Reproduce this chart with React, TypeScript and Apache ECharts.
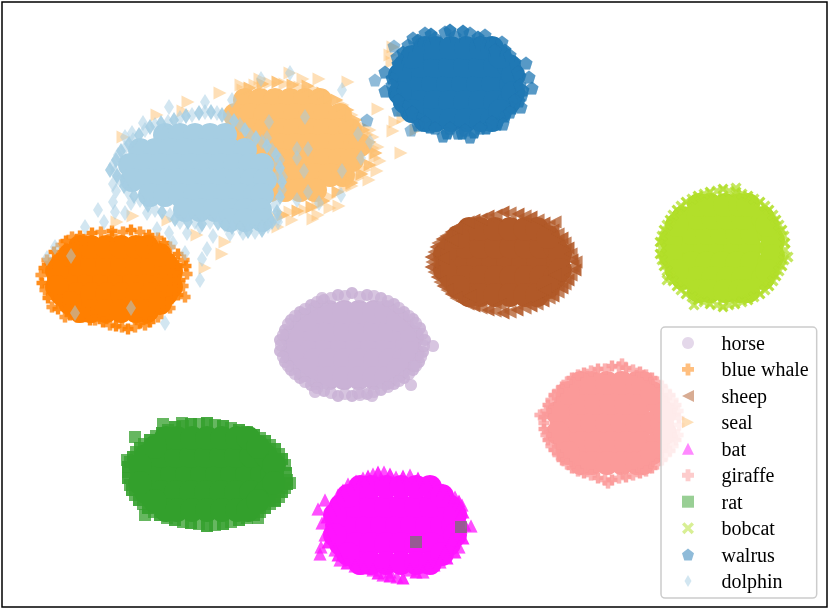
import React, { useEffect, useRef } from "react";
import * as echarts from "echarts";

const categories = ["horse", "blue whale", "sheep", "seal", "bat", "giraffe", "rat", "bobcat", "walrus", "dolphin"];
const colors = ["#cab2d6", "#ff7f00", "#b15928", "#fdbf6f", "#ff14ff", "#fb9a99", "#33a02c", "#b2df2a", "#1f78b4", "#a6cee3"];

// Dense middle of each cloud, as rows [y, x, x, ...]
const horseCore = [
  [345, 297, 312, 327, 342, 357, 372, 387, 407],
  [330, 300, 315, 330, 345, 360, 375, 390, 404],
  [360, 300, 315, 330, 345, 360, 375, 390, 404],
  [312, 318, 329, 344, 359, 374, 386],
  [378, 318, 329, 344, 359, 374, 386],
  [337, 292, 412], [353, 292, 412], [320, 305, 398], [370, 305, 398],
];
const whaleCore = [
  [279, 59, 74, 89, 104, 119, 134, 149, 169],
  [264, 62, 77, 92, 107, 122, 137, 152, 166],
  [294, 62, 77, 92, 107, 122, 137, 152, 166],
  [247, 80, 91, 106, 121, 136, 147],
  [311, 80, 91, 106, 121, 136, 147],
  [271, 57, 171], [287, 57, 171], [255, 70, 160], [303, 70, 160],
];
const sheepCore = [
  [262, 448, 463, 478, 493, 508, 523, 538, 558],
  [247, 451, 466, 481, 496, 511, 526, 541, 555],
  [277, 451, 466, 481, 496, 511, 526, 541, 555],
  [229, 469, 480, 495, 510, 525, 537],
  [295, 469, 480, 495, 510, 525, 537],
  [254, 445, 560], [270, 445, 560], [237, 458, 548], [287, 458, 548],
];
const sealCore = [
  [100, 245, 260, 275, 290, 305, 320],
  [115, 235, 250, 265, 280, 295, 310, 325, 340],
  [130, 235, 250, 265, 280, 295, 310, 325, 340, 350],
  [145, 235, 250, 265, 280, 295, 310, 325, 340, 355, 360],
  [160, 250, 265, 280, 295, 310, 325, 340, 352],
  [175, 255, 270, 285, 300, 315, 330, 343],
  [190, 270, 285, 300, 315],
];
const batCore = [
  [525, 337, 352, 367, 382, 397, 412, 427, 442, 453],
  [506, 341, 356, 371, 386, 401, 416, 431, 449],
  [544, 341, 356, 371, 386, 401, 416, 431, 449],
  [487, 360, 371, 386, 401, 416, 430],
  [563, 360, 371, 386, 401, 416, 430],
  [515, 335, 455], [535, 335, 455], [496, 348, 442], [554, 348, 442],
];
const giraffeCore = [
  [423, 562, 577, 592, 607, 622, 637, 652, 662],
  [403, 566, 581, 596, 611, 626, 641, 658],
  [443, 566, 581, 596, 611, 626, 641, 658],
  [383, 581, 592, 607, 622, 637, 643],
  [463, 581, 592, 607, 622, 637, 643],
  [413, 558, 665], [433, 558, 665], [393, 568, 652], [453, 568, 652],
];
const ratCore = [
  [474, 142, 157, 172, 187, 202, 217, 232, 247, 262, 272],
  [456, 146, 161, 176, 191, 206, 221, 236, 251, 266],
  [492, 146, 161, 176, 191, 206, 221, 236, 251, 266],
  [438, 166, 177, 192, 207, 222, 237, 248],
  [510, 166, 177, 192, 207, 222, 237, 248],
  [465, 140, 274], [483, 140, 274], [447, 155, 258], [501, 155, 258],
];
const bobcatCore = [
  [248, 675, 690, 705, 720, 735, 750, 771],
  [233, 677, 692, 707, 722, 737, 752, 769],
  [263, 677, 692, 707, 722, 737, 752, 769],
  [218, 683, 698, 713, 728, 743, 763],
  [278, 683, 698, 713, 728, 743, 763],
  [205, 699, 710, 725, 740, 748],
  [291, 699, 710, 725, 740, 748],
  [240, 671, 773], [256, 671, 773], [225, 677, 767], [271, 677, 767],
];
const walrusCore = [
  [84, 403, 418, 433, 448, 463, 478, 493, 511],
  [66, 405, 420, 435, 450, 465, 480, 495, 509],
  [102, 405, 420, 435, 450, 465, 480, 495, 509],
  [48, 425, 436, 451, 466, 481, 492],
  [120, 425, 436, 451, 466, 481, 492],
  [75, 400, 513], [93, 400, 513], [57, 412, 500], [111, 412, 500],
];
const dolphinCore = [
  [135, 165, 180, 195, 210, 225],
  [150, 140, 155, 170, 185, 200, 215, 230, 245],
  [165, 130, 145, 160, 175, 190, 205, 220, 235, 250, 262],
  [180, 132, 147, 162, 177, 192, 207, 222, 237, 252, 265],
  [195, 150, 165, 180, 195, 210, 225, 240, 255, 262],
  [210, 185, 200, 215, 230, 245, 260],
  [220, 230, 245, 262],
];

// Well-overlapped points in the rim of each cloud, as [x, y]
const horseRim = [
  [423, 352], [419, 362], [413, 370], [404, 378], [394, 384], [381, 390], [367, 394], [352, 396], [338, 396], [324, 391],
  [311, 385], [300, 378], [291, 370], [285, 362], [280, 351], [280, 340], [285, 330], [291, 320], [300, 312], [311, 305],
  [324, 300], [338, 295], [352, 293], [367, 295], [381, 298], [394, 304], [404, 312], [413, 319], [420, 328], [425, 340],
];
const whaleRim = [
  [177, 265], [180, 280], [178, 295], [168, 302], [150, 322], [140, 323], [128, 329], [116, 326], [103, 322], [90, 320],
  [70, 315], [58, 309], [48, 298], [42, 283], [44, 268], [54, 252], [66, 241], [80, 236], [92, 233], [112, 231],
  [131, 230], [149, 235], [164, 243], [178, 254], [186, 266],
];
const sheepRim = [
  [572, 260], [568, 280], [562, 288], [553, 296], [543, 301], [531, 306], [517, 310], [503, 313], [488, 310], [474, 306],
  [462, 301], [451, 294], [443, 286], [437, 277], [431, 267], [431, 257], [436, 247], [442, 239], [451, 232], [462, 225],
  [474, 220], [488, 216], [503, 212], [518, 214], [531, 217], [544, 223], [553, 230], [562, 238], [568, 248], [575, 270],
];
const sealRim = [
  [250, 88], [263, 84], [278, 82], [293, 85], [308, 86], [323, 93], [337, 100], [348, 110], [356, 120], [364, 130], [370, 142],
  [376, 153], [370, 165], [362, 174], [352, 183], [338, 192], [324, 201], [312, 207], [298, 211], [283, 215], [268, 220],
];
const batRim = [
  [328, 542], [330, 529], [327, 517], [334, 503], [343, 490], [356, 481], [368, 476], [378, 472], [390, 474], [403, 476],
  [418, 478], [435, 486], [449, 494], [459, 501], [463, 512], [465, 525], [463, 538], [455, 552], [447, 558], [434, 565],
  [416, 572], [403, 578], [390, 576], [378, 573], [364, 568], [347, 563], [338, 555],
];
const giraffeRim = [
  [679, 418], [676, 440], [670, 451], [662, 460], [652, 468], [640, 473], [626, 477], [612, 480], [598, 478], [584, 473],
  [572, 468], [562, 460], [554, 450], [548, 440], [544, 429], [544, 417], [548, 405], [554, 395], [562, 387], [572, 378],
  [584, 373], [598, 369], [612, 366], [626, 368], [640, 372], [652, 378], [662, 386], [670, 395], [676, 405],
];
const ratRim = [
  [286, 473], [287, 484], [282, 492], [275, 501], [265, 508], [254, 515], [239, 520], [223, 524], [207, 526], [191, 523],
  [175, 520], [160, 515], [148, 508], [139, 500], [132, 490], [128, 478], [128, 467], [133, 457], [140, 448], [150, 440],
  [162, 433], [175, 427], [191, 424], [207, 423], [223, 426], [239, 430], [254, 435], [265, 441], [275, 449], [282, 459],
];
const bobcatRim = [
  [785, 243], [782, 266], [776, 276], [769, 286], [760, 294], [748, 300], [735, 304], [723, 307], [710, 304], [698, 300],
  [686, 294], [677, 286], [670, 276], [664, 266], [660, 254], [660, 242], [664, 230], [670, 220], [677, 210], [686, 202],
  [698, 196], [710, 192], [723, 189], [736, 192], [748, 196], [760, 202], [769, 210], [776, 220], [782, 230],
];
const walrusRim = [
  [520, 76], [523, 90], [519, 101], [512, 108], [505, 116], [497, 124], [486, 128], [474, 132], [462, 133], [447, 133],
  [430, 127], [418, 118], [405, 106], [395, 93], [392, 78], [398, 64], [403, 52], [418, 40], [431, 34], [450, 30],
  [463, 31], [478, 37], [491, 43], [505, 50], [515, 62],
];
const dolphinRim = [
  [116, 160], [121, 151], [129, 144], [139, 135], [150, 127], [161, 123], [174, 120], [186, 116], [199, 113], [211, 112],
  [222, 115], [234, 121], [245, 130], [256, 138], [267, 146], [276, 155], [280, 168], [282, 182], [280, 197], [277, 212],
  [272, 222], [262, 230], [248, 231], [232, 227], [218, 223], [202, 224], [188, 222], [175, 219], [162, 212], [148, 205],
  [134, 196], [124, 186], [117, 176], [110, 170],
];

// Lone points away from their own cloud, as [x, y]
const ratStray = [[416, 542], [461, 527]];
const walrusStray = [[367, 120], [394, 46], [375, 80], [411, 130]];

// Loose points round each cloud, as [x, y]
const horsePts = [
  [424, 346], [421, 357], [416, 366], [409, 374], [399, 381], [388, 387], [374, 392], [360, 395],
  [345, 394], [331, 393], [317, 388], [305, 382], [295, 374], [288, 366], [283, 357], [281, 345],
  [283, 335], [288, 324], [295, 316], [305, 309], [317, 302], [331, 298], [345, 296],
  [360, 297], [374, 296], [388, 301], [399, 308], [409, 316], [416, 323], [422, 334],
  [433, 346], [414, 366], [411, 385], [372, 396], [315, 392], [322, 298], [358, 393],
];
const whalePts = [
  [41, 275], [45, 290], [52, 307], [65, 317], [77, 317], [88, 313], [110, 325], [122, 327], [135, 327],
  [145, 325], [158, 317], [170, 308], [185, 297], [183, 286], [187, 274], [184, 260], [170, 247],
  [158, 238], [140, 232], [123, 232], [101, 232], [72, 237], [61, 245], [47, 260], [50, 263], [163, 303],
  [173, 263], [175, 290], [60, 300], [95, 320], [112, 236], [85, 240], [150, 240], [68, 310], [170, 280],
];
const sheepPts = [
  [573, 266], [571, 275], [565, 284], [558, 292], [549, 298], [537, 304], [525, 308], [510, 312],
  [495, 311], [481, 308], [468, 304], [456, 298], [447, 290], [440, 282], [434, 272], [432, 262],
  [434, 252], [438, 243], [446, 236], [456, 228], [468, 222], [481, 219], [496, 215],
  [510, 213], [525, 216], [538, 220], [549, 226], [558, 234], [565, 243], [571, 254],
  [555, 222], [576, 262], [443, 258], [545, 290], [470, 296], [452, 240], [555, 275], [500, 305],
];
const sealPts = [
  [117, 222], [133, 216], [220, 93], [188, 102], [183, 111], [157, 115], [123, 137], [348, 82], [319, 79],
  [303, 79], [290, 73], [260, 79], [241, 85], [378, 109], [395, 122], [393, 131], [401, 153], [380, 161],
  [377, 171], [369, 180], [352, 186], [339, 206], [330, 208], [318, 215], [313, 219], [292, 220], [278, 227],
  [225, 242], [222, 254], [205, 268], [197, 235], [168, 220], [370, 130], [373, 137], [378, 147], [393, 47],
  [390, 55], [392, 62], [403, 118], [416, 130], [243, 90], [255, 85], [270, 83], [285, 84], [300, 87],
  [315, 90], [330, 97], [343, 105], [352, 115], [360, 125], [367, 135], [373, 148], [375, 158], [365, 170],
  [358, 178], [345, 188], [330, 197], [318, 205], [305, 210], [290, 212], [275, 217], [262, 222],
];
const batPts = [
  [325, 500], [318, 509], [321, 547], [320, 554], [471, 526], [461, 527], [459, 547], [440, 562], [428, 567],
  [423, 572], [397, 577], [383, 575], [373, 570], [355, 566], [340, 560], [335, 550], [325, 535], [322, 523],
  [330, 510], [338, 495], [348, 484], [363, 478], [373, 474], [384, 472], [396, 477], [410, 475], [426, 482],
  [443, 490], [455, 497], [462, 505], [460, 517], [452, 540], [445, 552], [410, 570], [390, 572],
];
const giraffePts = [
  [679, 425], [678, 435], [673, 446], [666, 455], [657, 464], [646, 471], [633, 475], [619, 478],
  [605, 480], [591, 475], [578, 471], [567, 464], [558, 455], [551, 446], [546, 435], [544, 423],
  [546, 411], [551, 400], [558, 391], [567, 382], [578, 375], [591, 371], [605, 369],
  [619, 367], [633, 370], [646, 375], [657, 382], [666, 391], [673, 400], [678, 411],
  [540, 415], [608, 483], [622, 364],
];
const ratPts = [
  [287, 480], [285, 488], [279, 497], [270, 504], [260, 512], [247, 518], [231, 522], [215, 525],
  [199, 524], [183, 522], [167, 518], [154, 512], [143, 504], [135, 495], [130, 485], [128, 472],
  [130, 462], [136, 452], [144, 444], [156, 436], [168, 430], [183, 426], [199, 424],
  [215, 425], [231, 428], [247, 432], [260, 438], [270, 445], [279, 454], [285, 465],
  [127, 460], [135, 437], [163, 424], [182, 423], [290, 483], [275, 500], [258, 518], [145, 515],
];
const bobcatPts = [
  [785, 250], [784, 260], [779, 271], [773, 281], [765, 290], [754, 297], [742, 302], [729, 305],
  [717, 305], [704, 302], [692, 297], [681, 290], [673, 281], [667, 271], [662, 260], [661, 248],
  [662, 236], [667, 225], [673, 215], [681, 206], [692, 199], [704, 194], [717, 191],
  [729, 191], [742, 194], [754, 199], [765, 206], [773, 215], [779, 225], [784, 236],
  [736, 188], [788, 257], [694, 305], [667, 280],
];
const walrusPts = [
  [418, 125], [398, 110], [385, 91], [443, 136], [458, 133],
  [470, 137], [503, 124], [532, 88], [529, 77], [526, 63], [522, 95], [521, 107], [502, 42], [485, 35],
  [470, 33], [445, 32], [425, 33], [413, 38], [408, 45], [397, 57], [385, 72], [392, 85], [398, 100],
  [412, 112], [425, 122], [435, 128], [450, 128], [465, 130], [480, 128], [492, 122], [510, 112], [515, 100],
  [455, 36], [435, 38], [480, 42], [495, 50], [510, 55], [518, 72], [520, 85],
];
const dolphinPts = [
  [290, 73], [261, 79], [342, 90], [232, 100], [205, 102], [169, 107], [143, 123], [132, 133], [125, 137],
  [305, 117], [269, 122], [267, 138], [297, 149], [308, 149], [297, 158], [304, 171], [342, 171], [361, 158],
  [370, 142], [358, 134], [308, 192], [319, 203], [341, 195], [283, 177], [277, 163], [297, 200], [113, 184],
  [116, 191], [113, 202], [115, 212], [98, 210], [104, 222], [125, 213], [85, 227], [131, 203], [147, 213],
  [157, 229], [169, 233], [173, 243], [185, 253], [207, 249], [202, 259], [200, 280], [165, 323], [131, 308],
  [75, 313], [71, 256], [55, 247], [47, 258], [278, 222], [243, 233], [262, 227], [230, 234], [213, 236],
  [187, 233], [200, 227], [113, 165], [118, 155], [125, 148], [133, 140], [145, 130], [155, 125], [168, 122],
  [180, 118], [192, 115], [205, 112], [217, 113], [228, 118], [240, 125], [250, 135], [262, 142], [272, 150],
  [280, 160], [278, 175], [282, 190], [275, 205], [278, 218], [268, 226], [255, 232], [240, 228], [225, 225],
  [210, 222], [195, 222], [180, 222], [170, 215], [155, 210], [140, 200], [128, 192], [120, 180], [115, 172],
];

const cores = [horseCore, whaleCore, sheepCore, sealCore, batCore, giraffeCore, ratCore, bobcatCore, walrusCore, dolphinCore];
const rims = [horseRim, whaleRim, sheepRim, sealRim, batRim, giraffeRim, ratRim, bobcatRim, walrusRim, dolphinRim];
const points = [horsePts, whalePts, sheepPts, sealPts, batPts, giraffePts, ratPts, bobcatPts, walrusPts, dolphinPts];
const strays = [[], [], [], [], [], [], ratStray, [], walrusStray, []];

const PLUS = "path://M3 0h4v3h3v4H7v3H3V7H0V3h3z";
const CROSS = "path://M2 0L5 3 8 0 10 2 7 5 10 8 8 10 5 7 2 10 0 8 3 5 0 2z";
const PENTAGON = "path://M5 0L10 3.8 8.1 10H1.9L0 3.8z";
const LEFT = "path://M0 5L10 0V10z";
const RIGHT = "path://M10 5L0 0V10z";
const UP = "path://M5 0L10 10H0z";
const SQUARE = "path://M0 0H10V10H0z";
const THIN_DIAMOND = "path://M3.5 0L7 6 3.5 12 0 6z";

const symbols = ["circle", PLUS, LEFT, RIGHT, UP, PLUS, SQUARE, CROSS, PENTAGON, THIN_DIAMOND];
const sizes: any[] = [12, 11, 13, 13, 13, 11, 12, 11, 13, [10, 16]];
const repeats = [2, 2, 2, 1, 2, 2, 2, 2, 2, 1];

export default function App() {
  const ref = useRef<HTMLDivElement>(null);
  useEffect(() => {
    const chart = echarts.init(ref.current!, undefined, { renderer: "svg" });
    const series = categories.map((name, i) => ({
      type: "scatter",
      name,
      symbol: symbols[i],
      symbolSize: sizes[i],
      silent: true,
      itemStyle: { color: colors[i], opacity: 0.5 },
      data: [
        ...cores[i].flatMap(([y, ...xs]) =>
          xs.map((x) => ({ value: [x, y], symbol: "circle", symbolSize: 24, itemStyle: { opacity: 1 } }))
        ),
        ...rims[i].map((p) => ({ value: p, itemStyle: { opacity: 0.9 } })),
        ...points[i].map((p) => ({ value: p })),
        ...(repeats[i] > 1 ? points[i].map((p) => ({ value: p })) : []),
        ...strays[i].map((p) => ({ value: p })),
      ],
    }));
    chart.setOption({
      animation: false,
      grid: { left: 2, right: 3, top: 2, bottom: 3, show: true, borderColor: "#000", borderWidth: 1.5, backgroundColor: "#fff" },
      xAxis: { type: "value", min: 2, max: 827, show: false },
      yAxis: { type: "value", min: 2, max: 607, inverse: true, show: false },
      legend: {
        left: 661,
        top: 327,
        orient: "vertical",
        selectedMode: false,
        padding: [6, 8, 7, 21],
        itemWidth: 57,
        itemHeight: 12,
        itemGap: 6.45,
        backgroundColor: "rgba(255,255,255,0.8)",
        borderColor: "#cccccc",
        borderWidth: 1.5,
        borderRadius: 4,
        textStyle: { fontFamily: "Liberation Serif", fontSize: 20, color: "#000", lineHeight: 19 },
        data: categories.map((name, i) => ({ name, icon: symbols[i], itemStyle: { opacity: 0.5 } })),
      },
      series,
    });
    return () => chart.dispose();
  }, []);
  return <div ref={ref} style={{ position: "fixed", left: 0, top: 0, width: 830, height: 610 }} />;
}
